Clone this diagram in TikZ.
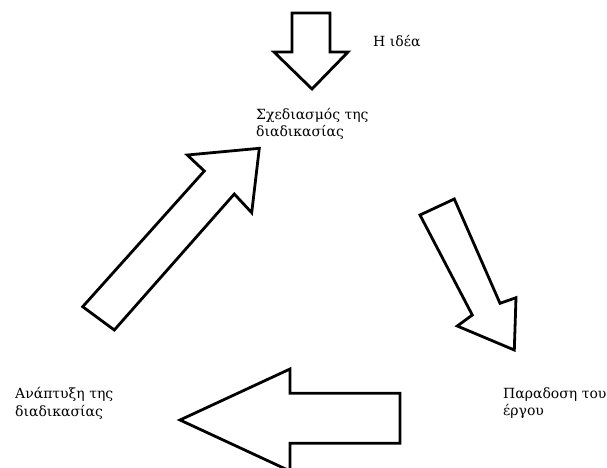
\documentclass[tikz,border=0pt]{standalone}
\usepackage{fontspec}
\setmainfont{DejaVu Serif}
\begin{document}
\begin{tikzpicture}[x=1pt,y=-1pt,
  blockarrow/.style={draw=black,line width=2.8pt,line join=miter,fill=white},
  lbl/.style={font=\fontsize{14}{17.5}\selectfont,align=left,anchor=base west,inner sep=0pt}]
\useasboundingbox (0,0) rectangle (607,467);
\clip (0,0) rectangle (607,467);
% top arrow (down)
\draw[blockarrow] (292,13) -- (330,13) -- (330,52) -- (348,52) -- (312,89) -- (274,52) -- (292,52) -- cycle;
% left arrow (up-right)
\draw[blockarrow] (82.7,306.7) -- (114.3,330) -- (234.3,194) -- (251.7,212.7) -- (259.3,148.3) -- (187.3,155) -- (204.3,171) -- cycle;
% right arrow (down-right)
\draw[blockarrow] (420,215) -- (454.3,199) -- (500,303.3) -- (516,297.7) -- (514.3,350) -- (457.3,326) -- (472.3,315) -- cycle;
% bottom arrow (left)
\draw[blockarrow] (400,393.3) -- (400,443.3) -- (290,443.3) -- (290,471) -- (180,420) -- (290,369) -- (290,393.3) -- cycle;
% labels (base anchor = baseline of the last line)
\node[lbl] (idea) at (373,46) {Η ιδέα};
\node[lbl] (sxed) at (256,136.5) {Σχεδιασμός της\\διαδικασίας};
\node[lbl] (parad) at (503,415.5) {Παραδοση του\\έργου};
\node[lbl] (anapt) at (15,416) {Ανάπτυξη της\\διαδικασίας};
\end{tikzpicture}
\end{document}
